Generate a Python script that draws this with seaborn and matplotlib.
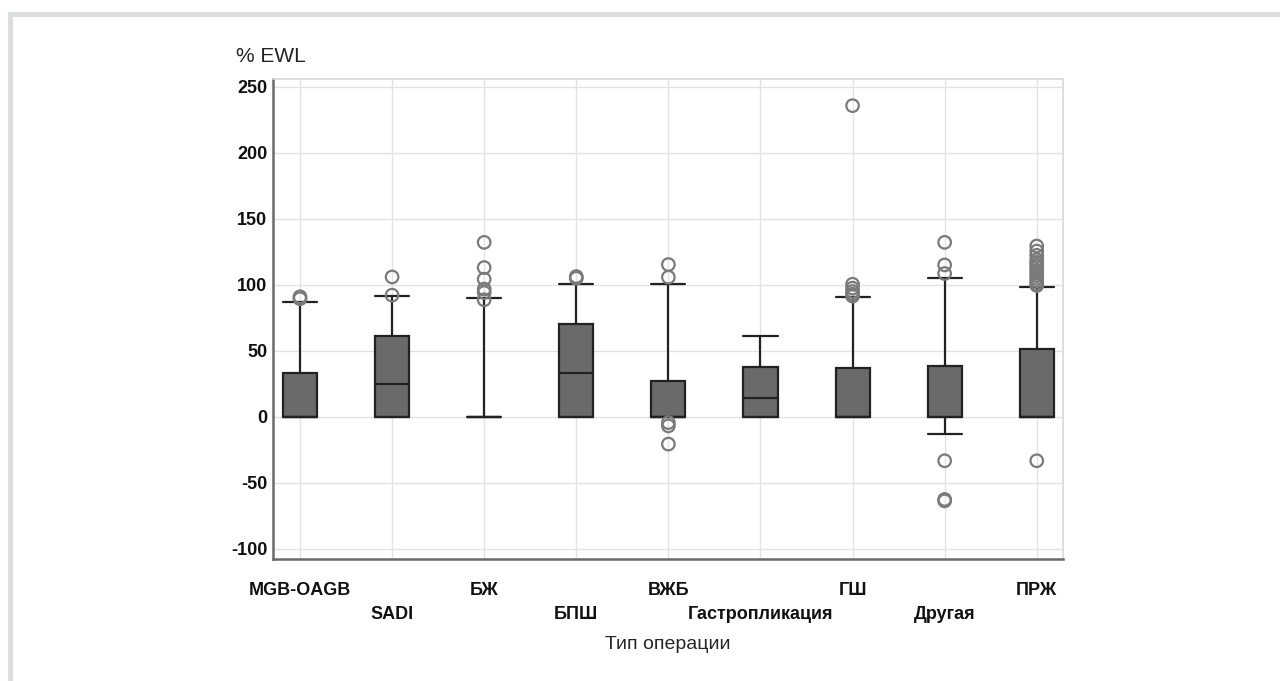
import pandas as pd
import seaborn as sns
from matplotlib import pyplot as plt
from matplotlib.patches import Rectangle

# operation types
categories = ["MGB-OAGB", "SADI", "БЖ", "БПШ", "ВЖБ",
              "Гастропликация", "ГШ", "Другая", "ПРЖ"]

# box summaries (% EWL)
whisker_low = [0, 0, 0, 0, 0, 0, 0, -12.6, 0]
q1 = [0, 0, 0, 0, 0, 0, 0, 0, 0]
median = [0, 24.6, 0, 33.2, 0, 14.5, 0, 0, 0]
q3 = [33.2, 61.5, 0, 70.4, 27.1, 37.7, 36.9, 38.9, 51.5]
whisker_high = [86.7, 91.5, 89.7, 100.3, 100.3, 61.5, 90.5, 105.3, 98.3]

# outliers per category
outliers = {
    "MGB-OAGB": [89.5, 91.0],
    "SADI": [92.2, 106.0],
    "БЖ": [88.7, 94.2, 96.8, 104.3, 113.1, 132.2],
    "БПШ": [105.0, 106.3],
    "ВЖБ": [105.8, 115.4, -4.3, -6.8, -20.6],
    "Гастропликация": [],
    "ГШ": [91.5, 93.0, 95.0, 97.5, 100.5, 235.7],
    "Другая": [108.6, 115.1, 132.2, -33.2, -62.5, -63.6],
    "ПРЖ": [99.5, 101, 103, 105, 107, 109, 111, 113, 115, 117, 119,
            122.4, 125.6, 129.4, -33.2],
}

rows = []
for i, cat in enumerate(categories):
    for v in (whisker_low[i], q1[i], median[i], q3[i], whisker_high[i]):
        rows.append({"op": cat, "ewl": v})
box_df = pd.DataFrame(rows)

out_rows = [{"op": c, "ewl": v} for c in categories for v in outliers[c]]
out_df = pd.DataFrame(out_rows)

sns.set_style("whitegrid")
plt.rcParams['font.family'] = ['Liberation Sans', 'DejaVu Sans']
plt.rcParams['axes.unicode_minus'] = False

fig = plt.figure(figsize=(12.8, 6.81), dpi=100)
ax = fig.add_axes([273 / 1280, 1 - 559 / 681, (1063 - 273) / 1280, (559 - 79) / 681])

sns.boxplot(
    data=box_df, x="op", y="ewl", order=categories,
    whis=(0, 100), showfliers=False, width=0.37,
    color="#6a6a6a", saturation=1, linecolor="#222222", linewidth=1.6,
    capwidths=0.37, ax=ax,
)
sns.stripplot(
    data=out_df, x="op", y="ewl", order=categories,
    jitter=False, size=9, ax=ax, zorder=4,
)
for coll in ax.collections:
    coll.set_facecolor("none")
    coll.set_edgecolor("#7a7a7a")
    coll.set_linewidth(1.6)

ax.set_xlim(-0.293, 8.285)
ax.set_ylim(-107.6, 255.9)
ax.set_yticks([-100, -50, 0, 50, 100, 150, 200, 250])
ax.set_xlabel("Тип операции", fontsize=14, labelpad=9.5)
ax.set_ylabel("")
ax.set_axisbelow(True)
ax.grid(True, color="#e2e2e2", linewidth=1)

ax.tick_params(axis="y", length=0, pad=4, labelsize=13)
ax.tick_params(axis="x", length=8, width=1, color="#9a9a9a", pad=8.5, labelsize=13)
for lab in ax.get_xticklabels() + ax.get_yticklabels():
    lab.set_fontweight("bold")
    lab.set_color("#111111")
for i, tick in enumerate(ax.xaxis.get_major_ticks()):
    if i % 2 == 1:
        tick.set_pad(8.5 + 17)

for side in ["left", "bottom"]:
    ax.spines[side].set_color("#6a6a6a")
    ax.spines[side].set_linewidth(1.8)
for side in ["top", "right"]:
    ax.spines[side].set_color("#d8d8d8")
    ax.spines[side].set_linewidth(1.2)

fig.text(236 / 1280, 1 - 57 / 681, "% EWL", fontsize=15, va="center", ha="left",
         color="#222222")

# light frame around the figure
fig.patches.append(Rectangle((9.8 / 1280, -0.1), 1.2, 1 - 13.8 / 681 + 0.1,
                             transform=fig.transFigure, fill=False,
                             edgecolor="#dcdfdf", linewidth=3.6))

plt.savefig("out.png", dpi=100)
